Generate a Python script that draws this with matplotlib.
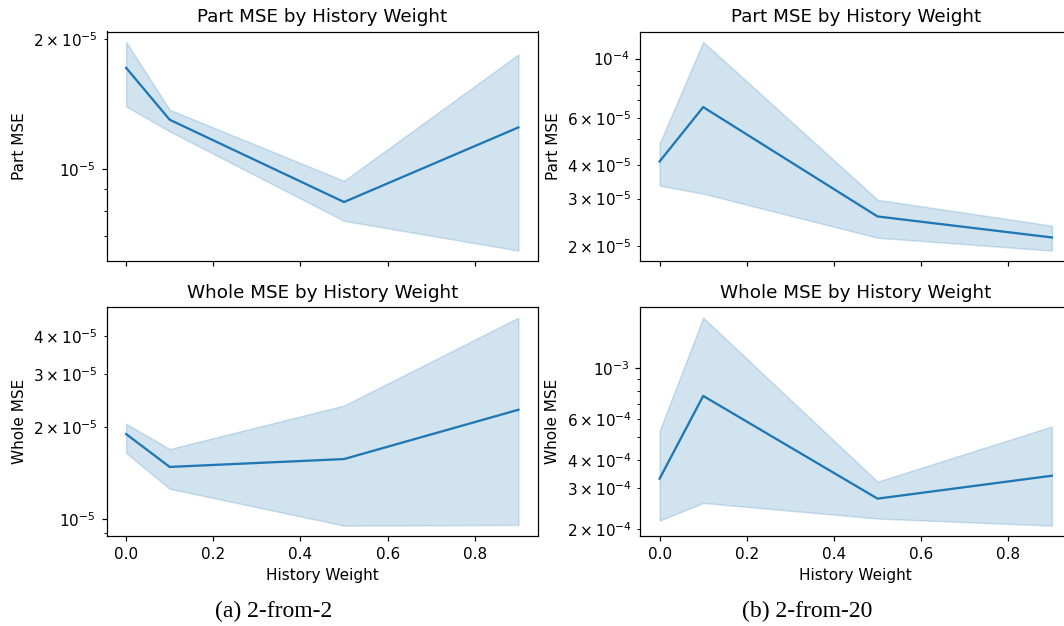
import matplotlib
matplotlib.use("Agg")
import matplotlib.pyplot as plt

# history weights
hist_w = [0.0, 0.1, 0.5, 0.9]

# 2-from-2
part2_mean = [1.714e-5, 1.30e-5, 8.39e-6, 1.248e-5]
part2_hi = [1.967e-5, 1.371e-5, 9.39e-6, 1.84e-5]
part2_lo = [1.396e-5, 1.222e-5, 7.59e-6, 6.48e-6]

whole2_mean = [1.902e-5, 1.483e-5, 1.574e-5, 2.286e-5]
whole2_hi = [2.056e-5, 1.698e-5, 2.36e-5, 4.59e-5]
whole2_lo = [1.648e-5, 1.257e-5, 9.51e-6, 9.56e-6]

# 2-from-20
part20_mean = [4.13e-5, 6.59e-5, 2.573e-5, 2.148e-5]
part20_hi = [4.82e-5, 1.154e-4, 2.97e-5, 2.377e-5]
part20_lo = [3.353e-5, 3.13e-5, 2.143e-5, 1.919e-5]

whole20_mean = [3.307e-4, 7.58e-4, 2.707e-4, 3.406e-4]
whole20_hi = [5.34e-4, 1.66e-3, 3.208e-4, 5.58e-4]
whole20_lo = [2.173e-4, 2.594e-4, 2.218e-4, 2.066e-4]

W, H = 1064, 626
dpi = 110
fig = plt.figure(figsize=(W / dpi, H / dpi), dpi=dpi)

def box(x0, y0, x1, y1):
    return [x0 / W, 1 - y1 / H, (x1 - x0) / W, (y1 - y0) / H]

col_x = [106.5, 640]
ax_w = 431.5
row_y = [(31.5, 261), (307.3, 536)]

panels = [
    (0, 0, part2_mean, part2_lo, part2_hi, "Part MSE by History Weight", "Part MSE"),
    (1, 0, whole2_mean, whole2_lo, whole2_hi, "Whole MSE by History Weight", "Whole MSE"),
    (0, 1, part20_mean, part20_lo, part20_hi, "Part MSE by History Weight", "Part MSE"),
    (1, 1, whole20_mean, whole20_lo, whole20_hi, "Whole MSE by History Weight", "Whole MSE"),
]

for r, c, m, lo, hi, title, ylab in panels:
    y0, y1 = row_y[r]
    ax = fig.add_axes(box(col_x[c], y0, col_x[c] + ax_w, y1))
    ax.fill_between(hist_w, lo, hi, color="#1f77b4", alpha=0.2)
    ax.plot(hist_w, m, color="#1f77b4", lw=1.5)
    ax.set_yscale("log")
    ax.set_title(title)
    ax.set_ylabel(ylab)
    ax.set_xticks([0.0, 0.2, 0.4, 0.6, 0.8])
    if r == 0:
        ax.set_xticklabels([])
    else:
        ax.set_xlabel("History Weight")

# subfigure captions
fig.text(274 / W, 1 - 611 / H, "(a) 2-from-2", ha="center", va="center",
         family="Liberation Serif", fontsize=15.5)
fig.text(807 / W, 1 - 611 / H, "(b) 2-from-20", ha="center", va="center",
         family="Liberation Serif", fontsize=15.5)

fig.savefig("out.png", dpi=dpi)
